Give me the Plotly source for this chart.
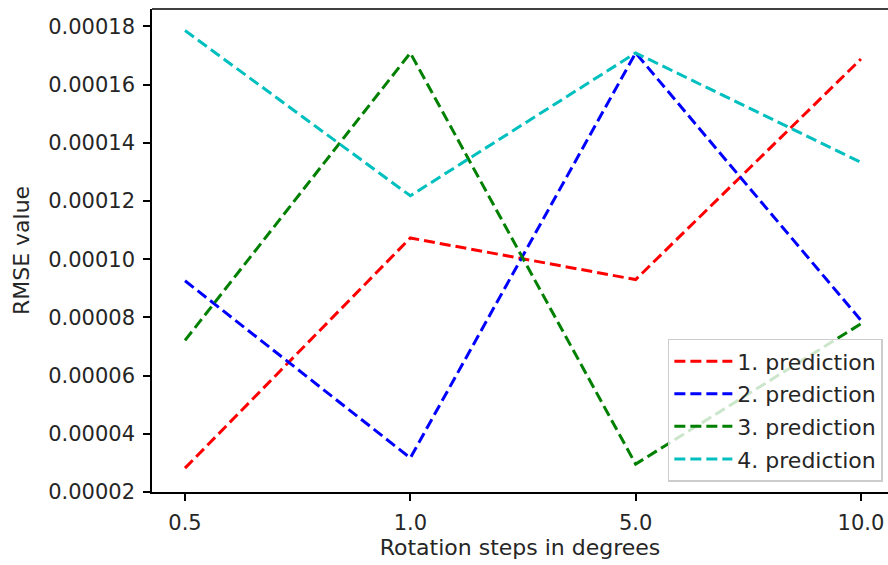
import plotly.graph_objects as go

categories = ["0.5", "1.0", "5.0", "10.0"]
pred1 = [2.82e-5, 10.73e-5, 9.30e-5, 16.88e-5]
pred2 = [9.26e-5, 3.17e-5, 17.09e-5, 7.90e-5]
pred3 = [7.21e-5, 17.09e-5, 2.96e-5, 7.78e-5]
pred4 = [17.86e-5, 12.18e-5, 17.09e-5, 13.33e-5]
series_names = ["1. prediction", "2. prediction", "3. prediction", "4. prediction"]
y_ticks = [2e-5, 4e-5, 6e-5, 8e-5, 10e-5, 12e-5, 14e-5, 16e-5, 18e-5]

colors = ["#ff0000", "#0000ff", "#008000", "#00bfbf"]
FONT = "DejaVu Sans"
FS = 21
FT = 22

fig = go.Figure()
xidx = list(range(len(categories)))
for i, (vals, name, c) in enumerate(zip([pred1, pred2, pred3, pred4], series_names, colors)):
    fig.add_trace(go.Scatter(
        x=xidx, y=vals, mode="lines", name=name, legendgroup=f"g{i}",
        line=dict(color=c, width=3, dash="11px,5px"),
    ))

fig.update_layout(
    width=888, height=565,
    margin=dict(l=152, r=0, t=9, b=73, pad=0),
    paper_bgcolor="white", plot_bgcolor="white",
    font=dict(family=FONT, size=FS, color="#262626"),
    showlegend=True,
    legend=dict(
        x=0.993, y=0.021, xanchor="right", yanchor="bottom",
        bgcolor="rgba(255,255,255,0.8)", bordercolor="#cccccc", borderwidth=1.5,
        font=dict(family=FONT, size=FT, color="#262626"),
        tracegroupgap=1, itemwidth=58,
    ),
    xaxis=dict(
        range=[-0.1465, 3.12],
        tickmode="array", tickvals=xidx, ticktext=categories,
        showgrid=False, zeroline=False,
        showline=True, linecolor="#000000", linewidth=1.6,
        ticks="outside", ticklen=7, tickwidth=1.6, tickcolor="#000000",
        ticklabelstandoff=4,
        tickfont=dict(family=FONT, size=FS, color="#262626"),
        title=dict(text="Rotation steps in degrees", standoff=5,
                   font=dict(family=FONT, size=FT, color="#262626")),
    ),
    yaxis=dict(
        range=[2e-5, 18.6e-5],
        tickmode="array", tickvals=y_ticks,
        tickformat=".5f",
        showgrid=False, zeroline=False,
        showline=True, linecolor="#000000", linewidth=1.6,
        ticks="outside", ticklen=7, tickwidth=1.6, tickcolor="#000000",
        ticklabelstandoff=4,
        tickfont=dict(family=FONT, size=FS, color="#262626"),
        title=dict(text="RMSE value", standoff=12,
                   font=dict(family=FONT, size=FT, color="#262626")),
    ),
    shapes=[dict(type="line", xref="paper", yref="paper", x0=0, x1=1, y0=1, y1=1,
                 line=dict(color="#000000", width=1.6))],
)

div = fig.to_html(full_html=False, include_plotlyjs=True,
                  config={"displayModeBar": False})
html = ("<!DOCTYPE html><html><head><meta charset='utf-8'>"
        "<style>html,body{margin:0;padding:0;overflow:hidden;background:white;}</style>"
        "</head><body>" + div + "</body></html>")
with open("out.html", "w", encoding="utf-8") as f:
    f.write(html)
